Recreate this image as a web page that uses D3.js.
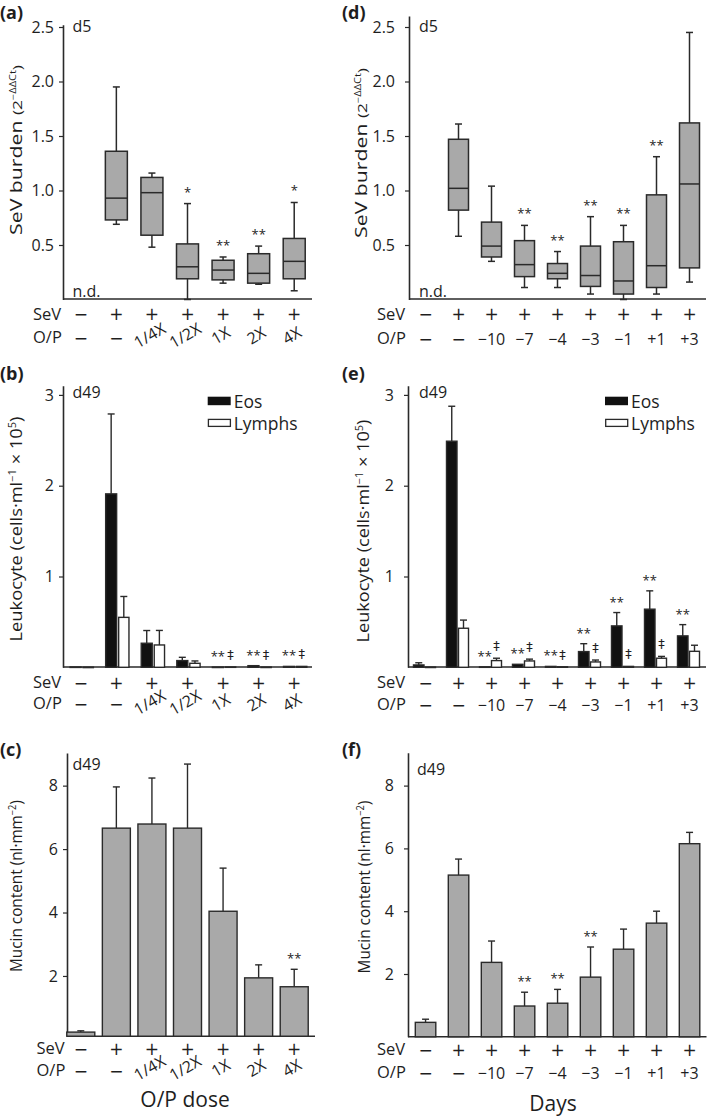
<!DOCTYPE html>
<html>
<head>
<meta charset="utf-8">
<script src="https://cdn.jsdelivr.net/npm/d3@7"></script>
<style>
  body { margin: 0; background: #fff; }
  svg text { font-family: "Open Sans", sans-serif; fill: #1e1e1e; }
  svg text.sym { font-family: "DejaVu Sans", sans-serif; }
</style>
</head>
<body>
<script>
var width = 709, height = 1120;
var ink = "#2a2a2a", grey = "#a9a9a9";

// row labels under the x axes
var doseSeV = ["−", "+", "+", "+", "+", "+", "+"];
var doseOP = ["−", "−", "1/4X", "1/2X", "1X", "2X", "4X"];
var daySeV = ["−", "+", "+", "+", "+", "+", "+", "+", "+"];
var dayOP = ["−", "−", "−10", "−7", "−4", "−3", "−1", "+1", "+3"];

// (a) SeV burden d5 by dose: [low whisker, q1, median, q3, high whisker], null = n.d.
var burdenDose = [null, [0.69, 0.73, 0.93, 1.36, 1.95], [0.48, 0.59, 0.98, 1.12, 1.16],
  [0, 0.19, 0.30, 0.51, 0.88], [0.15, 0.18, 0.27, 0.36, 0.39], [0.14, 0.15, 0.24, 0.42, 0.49],
  [0.08, 0.19, 0.35, 0.56, 0.89]];
var burdenDoseSig = ["", "", "", "*", "**", "**", "*"];

// (d) SeV burden d5 by day
var burdenDay = [null, [0.58, 0.82, 1.02, 1.47, 1.61], [0.35, 0.39, 0.49, 0.71, 1.04],
  [0.11, 0.21, 0.32, 0.54, 0.68], [0.11, 0.19, 0.24, 0.33, 0.44], [0.05, 0.12, 0.22, 0.49, 0.76],
  [0, 0.05, 0.17, 0.53, 0.68], [0.05, 0.11, 0.31, 0.96, 1.31], [0.16, 0.29, 1.06, 1.62, 2.45]];
var burdenDaySig = ["", "", "", "**", "**", "**", "**", "**", ""];

// (b) leukocytes d49 by dose (mean, SEM)
var eosDose = [0.004, 1.91, 0.265, 0.074, 0.003, 0.018, 0.01];
var eosDoseSem = [0, 0.88, 0.14, 0.036, 0, 0, 0];
var lymDose = [0.002, 0.55, 0.246, 0.044, 0.005, 0.003, 0.01];
var lymDoseSem = [0, 0.23, 0.16, 0.026, 0, 0, 0];
var eosDoseSig = ["", "", "", "", "**", "**", "**"];
var lymDoseSig = ["", "", "", "", "‡", "‡", "‡"];

// (e) leukocytes d49 by day
var eosDay = [0.026, 2.49, 0.005, 0.033, 0.01, 0.173, 0.456, 0.64, 0.346];
var eosDaySem = [0.024, 0.385, 0, 0, 0, 0.087, 0.147, 0.202, 0.124];
var lymDay = [0.003, 0.43, 0.074, 0.07, 0.006, 0.059, 0.01, 0.1, 0.176];
var lymDaySem = [0, 0.09, 0.026, 0.02, 0, 0.021, 0, 0.02, 0.067];
var eosDaySig = ["", "", "**", "**", "**", "**", "**", "**", "**"];
var lymDaySig = ["", "", "‡", "‡", "‡", "‡", "‡", "‡", ""];

// (c) mucin d49 by dose, (f) by day
var mucDose = [0.23, 6.66, 6.79, 6.66, 4.04, 1.94, 1.66];
var mucDoseSem = [0.04, 1.30, 1.45, 2.02, 1.36, 0.41, 0.55];
var mucDoseSig = ["", "", "", "", "", "", "**"];
var mucDay = [0.46, 5.15, 2.37, 0.98, 1.07, 1.90, 2.79, 3.62, 6.15];
var mucDaySem = [0.10, 0.51, 0.68, 0.44, 0.44, 0.96, 0.64, 0.38, 0.36];
var mucDaySig = ["", "", "", "**", "**", "**", "", "", ""];

var svg = d3.select("body").append("svg")
            .attr("width", width)
            .attr("height", height);

// x scales, one per column
var xL = d3.scaleBand().domain(d3.range(7)).range([63, 312]);
var xR = d3.scaleBand().domain(d3.range(9)).range([409, 706]);
function mid(x) { return function(d) { return x(d.i) + x.bandwidth() / 2; }; }

// y scales, one per panel
var yA = d3.scaleLinear().domain([0, 2.52]).range([299.5, 299.5 - 109 * 2.52]);
var yD = d3.scaleLinear().domain([0, 2.6]).range([299.5, 299.5 - 109 * 2.6]);
var yB = d3.scaleLinear().domain([0, 3.1]).range([667.3, 667.3 - 90.8 * 3.1]);
var yE = yB.copy();
var yC = d3.scaleLinear().domain([0.1, 9.03]).range([1039.4 - 3.172, 1039.4 - 31.72 * 9.03]);
var yF = d3.scaleLinear().domain([0, 9.05]).range([1036.8, 1036.8 - 31.4 * 9.05]);

function yAxis(y, x, ticks, fmt, pad) {
  svg.append("g")
     .attr("transform", "translate(" + x + ",0)")
     .call(d3.axisLeft(y).tickValues(ticks).tickFormat(fmt).tickSize(4).tickSizeOuter(0).tickPadding(pad))
     .call(function(a) {
       a.select(".domain").attr("stroke", ink).attr("stroke-width", 1.6);
       a.selectAll(".tick line").attr("stroke", ink).attr("stroke-width", 1.2);
       a.selectAll(".tick text").attr("font-size", 16).attr("fill", "#1e1e1e");
     });
}

function xLine(x0, x1, y) {
  svg.append("line")
     .attr("x1", x0).attr("x2", x1)
     .attr("y1", y).attr("y2", y)
     .attr("stroke", ink).attr("stroke-width", 1.6);
}

function label(x, y, txt, size, anchor, weight) {
  return svg.append("text")
            .attr("x", x).attr("y", y)
            .attr("font-size", size)
            .attr("text-anchor", anchor || "start")
            .attr("font-weight", weight || null)
            .text(txt);
}

// rotated y title, stretched to the measured length
function yTitle(x, y, len, parts) {
  var t = svg.append("text")
             .attr("text-anchor", "middle")
             .attr("font-size", 16);
  parts.forEach(function(p) {
    t.append("tspan").attr("font-size", p[1]).attr("dy", p[2] || 0).text(p[0]);
  });
  var natural = t.node().getComputedTextLength();
  t.attr("transform", "translate(" + x + "," + y + ") rotate(-90) scale(" + (len / natural) + ",1)");
}

function isSign(d) { return d == "−" || d == "+"; }

function rowLabels(x, sev, op, o) {
  label(o.lx, o.sevY, "SeV", 16.5);
  label(o.lx, o.opY, "O/P", 16.5);
  var cx = function(d, i) { return x(i) + x.bandwidth() / 2; };
  svg.append("g").selectAll("text")
     .data(sev).enter().append("text")
     .attr("class", "sym")
     .attr("x", cx).attr("y", o.sevY + 0.5)
     .attr("text-anchor", "middle").attr("font-size", 17)
     .text(function(d) { return d; });
  svg.append("g").selectAll("text")
     .data(op).enter().append("text")
     .attr("class", function(d) { return isSign(d) ? "sym" : null; })
     .attr("text-anchor", "middle")
     .attr("font-size", function(d) { return isSign(d) ? 17 : 16; })
     .attr("x", function(d, i) { return o.rot && !isSign(d) ? cx(d, i) - 2 : cx(d, i); })
     .attr("y", function(d) { return o.rot && !isSign(d) ? o.rotY + 5 : o.opY + 0.5; })
     .attr("transform", function(d, i) {
       return o.rot && !isSign(d) ? "rotate(-30," + (cx(d, i) - 2) + "," + o.rotY + ")" : null;
     })
     .text(function(d) { return d; });
}

function marks(data, x, y) {
  svg.append("g").selectAll("text")
     .data(data.filter(function(d) { return d.s; })).enter().append("text")
     .attr("class", function(d) { return d.s == "‡" ? "sym" : null; })
     .attr("x", x)
     .attr("y", function(d) { return y(d) - (d.s == "‡" ? 8 : 6); })
     .attr("text-anchor", "middle")
     .attr("font-size", 13)
     .attr("fill", "#3a3a3a")
     .text(function(d) { return d.s; });
}

function drawBoxes(x, y, boxes, sig, bw) {
  var data = boxes.map(function(b, i) { return {i: i, b: b, s: sig[i]}; })
                  .filter(function(d) { return d.b; });
  var c = mid(x);
  var g = svg.append("g").attr("stroke", ink).attr("stroke-width", 1.5);
  var box = g.selectAll("g").data(data).enter().append("g");
  box.append("line")
     .attr("x1", c).attr("x2", c)
     .attr("y1", function(d) { return y(d.b[0]); })
     .attr("y2", function(d) { return y(d.b[4]); });
  [0, 4].forEach(function(k) {
    box.append("line")
       .attr("x1", function(d) { return c(d) - 3.5; })
       .attr("x2", function(d) { return c(d) + 3.5; })
       .attr("y1", function(d) { return y(d.b[k]); })
       .attr("y2", function(d) { return y(d.b[k]); });
  });
  box.append("rect")
     .attr("x", function(d) { return c(d) - bw / 2; })
     .attr("width", bw)
     .attr("y", function(d) { return y(d.b[3]); })
     .attr("height", function(d) { return y(d.b[1]) - y(d.b[3]); })
     .attr("fill", grey);
  box.append("line")
     .attr("x1", function(d) { return c(d) - bw / 2; })
     .attr("x2", function(d) { return c(d) + bw / 2; })
     .attr("y1", function(d) { return y(d.b[2]); })
     .attr("y2", function(d) { return y(d.b[2]); });
  marks(data, c, function(d) { return y(d.b[4]) - 1; });
}

function drawBars(x, y, mean, sem, sig, off, bw, fill) {
  var data = mean.map(function(m, i) { return {i: i, m: m, e: sem[i], s: sig[i]}; });
  var left = function(d) { return x(d.i) + x.bandwidth() / 2 + off; };
  var c = function(d) { return left(d) + bw / 2; };
  var base = y(y.domain()[0]);
  var g = svg.append("g").attr("stroke", ink).attr("stroke-width", 1.4);
  g.selectAll("g.err")
   .data(data.filter(function(d) { return d.e > 0; })).enter().append("g")
   .each(function(d) {
     var e = d3.select(this);
     e.append("line").attr("x1", c(d)).attr("x2", c(d)).attr("y1", y(d.m)).attr("y2", y(d.m + d.e));
     e.append("line").attr("x1", c(d) - 3.5).attr("x2", c(d) + 3.5).attr("y1", y(d.m + d.e)).attr("y2", y(d.m + d.e));
   });
  g.selectAll("rect")
   .data(data).enter().append("rect")
   .attr("x", left)
   .attr("width", bw)
   .attr("y", function(d) { return y(d.m); })
   .attr("height", function(d) { return Math.max(0.5, base - y(d.m)); })
   .attr("fill", fill);
  marks(data, c, function(d) { return y(d.m + d.e); });
}

function legend(x, y) {
  svg.append("rect").attr("x", x).attr("y", y).attr("width", 23).attr("height", 8.5).attr("fill", "#111");
  svg.append("rect").attr("x", x + 0.7).attr("y", y + 22.7).attr("width", 22).attr("height", 7)
     .attr("fill", "#fff").attr("stroke", ink).attr("stroke-width", 1.3);
  label(x + 26, y + 10.8, "Eos", 17.5);
  label(x + 26, y + 33, "Lymphs", 17.5);
}

// ---------- (a) ----------
label(0, 18.5, "(a)", 18, "start", "bold");
yAxis(yA, 63, [0.5, 1.0, 1.5, 2.0, 2.5], d3.format(".1f"), 5);
xLine(63, 312, 299);
drawBoxes(xL, yA, burdenDose, burdenDoseSig, 22);
label(72.5, 31.5, "d5", 16);
label(72.5, 297, "n.d.", 16);
yTitle(21.5, 150, 170, [["SeV burden ", 16.5], ["(2", 13.5], ["−ΔΔCt", 8.5, -6], [")", 13.5, 6]]);
rowLabels(xL, doseSeV, doseOP, {lx: 33, sevY: 319.5, opY: 343, rot: true, rotY: 336});

// ---------- (d) ----------
label(342, 18.5, "(d)", 18, "start", "bold");
yAxis(yD, 409, [0.5, 1.0, 1.5, 2.0, 2.5], d3.format(".1f"), 10);
xLine(409, 706, 299);
drawBoxes(xR, yD, burdenDay, burdenDaySig, 20);
label(419, 31.5, "d5", 16);
label(419, 297, "n.d.", 16);
yTitle(367, 153, 170, [["SeV burden ", 16.5], ["(2", 13.5], ["−ΔΔCt", 8.5, -6], [")", 13.5, 6]]);
rowLabels(xR, daySeV, dayOP, {lx: 377, sevY: 319.5, opY: 344});

// ---------- (b) ----------
label(0, 380, "(b)", 18, "start", "bold");
yAxis(yB, 63, [1, 2, 3], d3.format("d"), 5);
xLine(63, 312, 667);
drawBars(xL, yB, eosDose, eosDoseSem, eosDoseSig, -10.7, 11, "#111");
drawBars(xL, yB, lymDose, lymDoseSem, lymDoseSig, 2.3, 10.3, "#fff");
legend(207.7, 396.7);
label(72.5, 398, "d49", 16);
yTitle(21.5, 529, 225, [["Leukocyte (cells·ml", 16.5], ["−1", 10, -6], [" × 10", 16.5, 6], ["5", 10, -6], [")", 16.5, 6]]);
rowLabels(xL, doseSeV, doseOP, {lx: 33, sevY: 688, opY: 709, rot: true, rotY: 703});

// ---------- (e) ----------
label(342, 380, "(e)", 18, "start", "bold");
yAxis(yE, 408, [1, 2, 3], d3.format("d"), 10);
xLine(408, 706, 667);
drawBars(xR, yE, eosDay, eosDaySem, eosDaySig, -12, 10.5, "#111");
drawBars(xR, yE, lymDay, lymDaySem, lymDaySig, 0, 10, "#fff");
legend(605, 396.7);
label(419, 398, "d49", 16);
yTitle(369, 531, 223, [["Leukocyte (cells·ml", 16.5], ["−1", 10, -6], [" × 10", 16.5, 6], ["5", 10, -6], [")", 16.5, 6]]);
rowLabels(xR, daySeV, dayOP, {lx: 377, sevY: 688, opY: 710});

// ---------- (c) ----------
label(0, 756, "(c)", 18, "start", "bold");
yAxis(yC, 67, [2, 4, 6, 8], d3.format("d"), 5);
xLine(67, 315, 1036.2);
drawBars(xL, yC, mucDose, mucDoseSem, mucDoseSig, -14, 28, grey);
label(72.5, 770, "d49", 16);
yTitle(22, 886, 172, [["Mucin content (nl·mm", 16.5], ["−2", 10, -6], [")", 16.5, 6]]);
rowLabels(xL, doseSeV, doseOP, {lx: 36.5, sevY: 1054, opY: 1076, rot: true, rotY: 1068.5});
label(185, 1107, "O/P dose", 21, "middle");

// ---------- (f) ----------
label(342, 756, "(f)", 18, "start", "bold");
yAxis(yF, 408, [2, 4, 6, 8], d3.format("d"), 10);
xLine(408, 706.5, 1036.8);
drawBars(xR, yF, mucDay, mucDaySem, mucDaySig, -10.2, 20.5, grey);
label(417, 775, "d49", 16);
yTitle(370, 887, 173, [["Mucin content (nl·mm", 16.5], ["−2", 10, -6], [")", 16.5, 6]]);
rowLabels(xR, daySeV, dayOP, {lx: 377, sevY: 1055, opY: 1078});
label(553, 1111, "Days", 21, "middle");
</script>
</body>
</html>
